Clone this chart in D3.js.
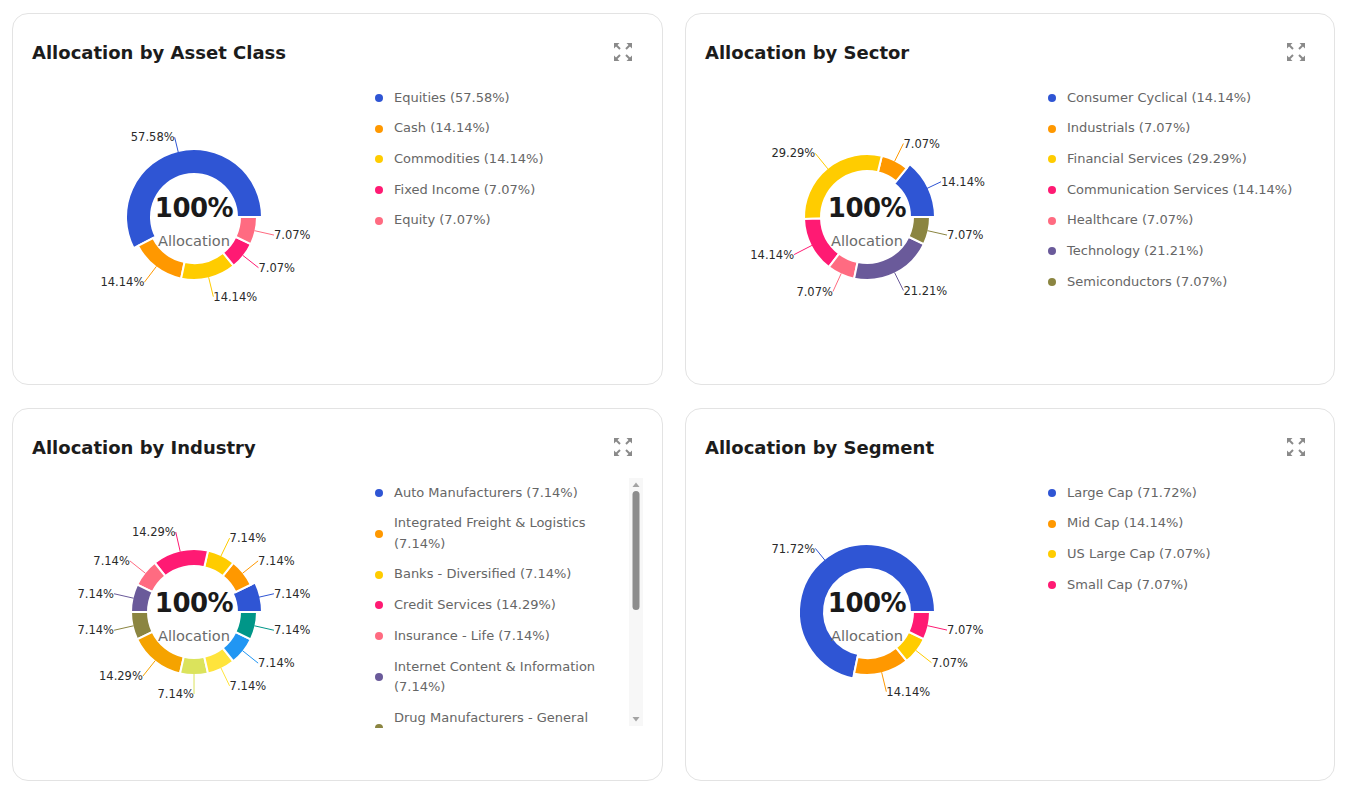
<!DOCTYPE html>
<html>
<head>
<meta charset="utf-8">
<script src="https://cdn.jsdelivr.net/npm/d3@7"></script>
<style>
  body { margin: 0; background: #fff; font-family: "DejaVu Sans", sans-serif; }
  #page { position: relative; width: 1346px; height: 792px; }
  .card { position: absolute; border: 1px solid #e3e3e3; border-radius: 16px; box-sizing: border-box; background: #fff; }
  .card svg { position: absolute; left: -1px; top: -1px; }
  .legend { position: absolute; left: 362px; top: 68.5px; overflow: hidden; }
  .legend-item { display: flex; align-items: center; padding: 5.1px 0; line-height: 20.5px; font-size: 13px; color: #666; }
  .legend-dot { width: 8px; height: 8px; border-radius: 50%; flex: none; margin-right: 11px; }
</style>
</head>
<body>
<div id="page"></div>
<script>
// chart data
const assetNames = ["Equities", "Cash", "Commodities", "Fixed Income", "Equity"];
const assetValues = [57.58, 14.14, 14.14, 7.07, 7.07];

const sectorNames = ["Consumer Cyclical", "Industrials", "Financial Services", "Communication Services",
  "Healthcare", "Technology", "Semiconductors"];
const sectorValues = [14.14, 7.07, 29.29, 14.14, 7.07, 21.21, 7.07];

const industryNames = ["Auto Manufacturers", "Integrated Freight & Logistics", "Banks - Diversified",
  "Credit Services", "Insurance - Life", "Internet Content & Information", "Drug Manufacturers - General",
  "Software - Infrastructure", "Consumer Electronics", "Semiconductors", "Specialty Retail", "Internet Retail"];
const industryValues = [7.14, 7.14, 7.14, 14.29, 7.14, 7.14, 7.14, 14.29, 7.14, 7.14, 7.14, 7.14];

const segmentNames = ["Large Cap", "Mid Cap", "US Large Cap", "Small Cap"];
const segmentValues = [71.72, 14.14, 7.07, 7.07];

const palette = ["#2f55d4", "#ff9800", "#ffcc00", "#ff1a73", "#ff6b81", "#6a5a9a",
  "#8b8541", "#f5a300", "#dbe35c", "#ffe43c", "#2196f3", "#009688"];

const charts = [
  { title: "Allocation by Asset Class", names: assetNames, values: assetValues, x: 12, y: 13, w: 651, h: 372 },
  { title: "Allocation by Sector", names: sectorNames, values: sectorValues, x: 685, y: 13, w: 650, h: 372 },
  { title: "Allocation by Industry", names: industryNames, values: industryValues, x: 12, y: 408, w: 651, h: 373, scroll: true },
  { title: "Allocation by Segment", names: segmentNames, values: segmentValues, x: 685, y: 408, w: 650, h: 373 }
];

const cx = 182, cy = 204;
const innerR = 46, outerR = 63;        // visible ring 47..62 after the 2px white stroke
const labelFrom = 62, labelTo = 82;

// recharts style: start at 3 o'clock, go counter-clockwise
const pie = d3.pie().sort(null).value(d => d)
  .startAngle(Math.PI / 2).endAngle(Math.PI / 2 - 2 * Math.PI);
const arc = d3.arc().innerRadius(innerR).outerRadius(outerR);
const activeArc = d3.arc().innerRadius(43).outerRadius(68);

const page = d3.select("#page");

charts.forEach(chart => {
  const card = page.append("div")
    .attr("class", "card")
    .style("left", chart.x + "px").style("top", chart.y + "px")
    .style("width", chart.w + "px").style("height", chart.h + "px");

  const svg = card.append("svg")
    .attr("width", chart.w).attr("height", chart.h);

  svg.append("text")
    .attr("x", 20).attr("y", 46)
    .attr("font-size", 18).attr("font-weight", "bold")
    .attr("fill", "#1c1c1c")
    .text(chart.title);

  // expand icon
  const icon = svg.append("g").attr("transform", "translate(611,39)").attr("fill", "#8a8a8a").attr("stroke", "#8a8a8a");
  [[-1, -1], [1, -1], [-1, 1], [1, 1]].forEach(([sx, sy]) => {
    icon.append("path")
      .attr("stroke", "none")
      .attr("d", `M${9 * sx},${9 * sy}L${3.5 * sx},${9 * sy}L${9 * sx},${3.5 * sy}Z`);
    icon.append("line")
      .attr("x1", 7 * sx).attr("y1", 7 * sy).attr("x2", 3 * sx).attr("y2", 3 * sy)
      .attr("stroke-width", 2);
  });

  const arcs = pie(chart.values);
  const g = svg.append("g");

  g.selectAll("path.slice")
    .data(arcs)
    .join("path")
    .attr("class", "slice")
    .attr("transform", `translate(${cx},${cy})`)
    .attr("d", (d, i) => i === 0 ? activeArc(d) : arc(d))
    .attr("fill", (d, i) => palette[i])
    .attr("stroke", "#fff")
    .attr("stroke-width", 2);

  // label lines + labels
  const pos = (d, r) => {
    const m = (d.startAngle + d.endAngle) / 2;
    return [cx + r * Math.sin(m), cy - r * Math.cos(m)];
  };

  g.selectAll("line.lbl")
    .data(arcs)
    .join("line")
    .attr("class", "lbl")
    .attr("x1", d => pos(d, labelFrom)[0]).attr("y1", d => pos(d, labelFrom)[1])
    .attr("x2", d => pos(d, labelTo)[0]).attr("y2", d => pos(d, labelTo)[1])
    .attr("stroke", (d, i) => palette[i])
    .attr("stroke-width", 1);

  g.selectAll("text.lbl")
    .data(arcs)
    .join("text")
    .attr("class", "lbl")
    .attr("x", d => pos(d, labelTo)[0])
    .attr("y", d => pos(d, labelTo)[1])
    .attr("dy", "0.36em")
    // labels straight below the centre hang to the left
    .attr("text-anchor", d => pos(d, labelTo)[0] > cx + 1 ? "start" : "end")
    .attr("font-size", 11.5)
    .attr("fill", "#2a2a2a")
    .text(d => d.data.toFixed(2) + "%");

  // center text
  svg.append("text")
    .attr("x", cx).attr("y", cy)
    .attr("text-anchor", "middle")
    .attr("font-size", 26).attr("font-weight", "bold")
    .attr("letter-spacing", -0.5)
    .attr("fill", "#1a1a1a")
    .text("100%");
  svg.append("text")
    .attr("x", cx).attr("y", cy + 29)
    .attr("text-anchor", "middle")
    .attr("font-size", 14.6)
    .attr("fill", "#6a6a6a")
    .text("Allocation");

  // legend
  const legend = card.append("div").attr("class", "legend")
    .style("width", chart.scroll ? "254px" : "280px")
    .style("height", chart.scroll ? "250px" : "290px");

  chart.names.forEach((name, i) => {
    const item = legend.append("div").attr("class", "legend-item");
    item.append("span").attr("class", "legend-dot").style("background", palette[i]);
    item.append("span")
      .style("max-width", chart.scroll ? "230px" : "260px")
      .text(`${name} (${chart.values[i].toFixed(2)}%)`);
  });

  if (chart.scroll) {
    const sb = svg.append("g");
    sb.append("rect").attr("x", 617).attr("y", 70).attr("width", 14).attr("height", 248).attr("fill", "#f7f7f7");
    sb.append("rect").attr("x", 620.5).attr("y", 83).attr("width", 7).attr("height", 119)
      .attr("rx", 3.5).attr("fill", "#8c8c8c");
    sb.append("path").attr("d", "M620.5,79L624,74.5L627.5,79Z").attr("fill", "#a3a3a3");
    sb.append("path").attr("d", "M620.5,309L624,313.5L627.5,309Z").attr("fill", "#a3a3a3");
  }
});
</script>
</body>
</html>
